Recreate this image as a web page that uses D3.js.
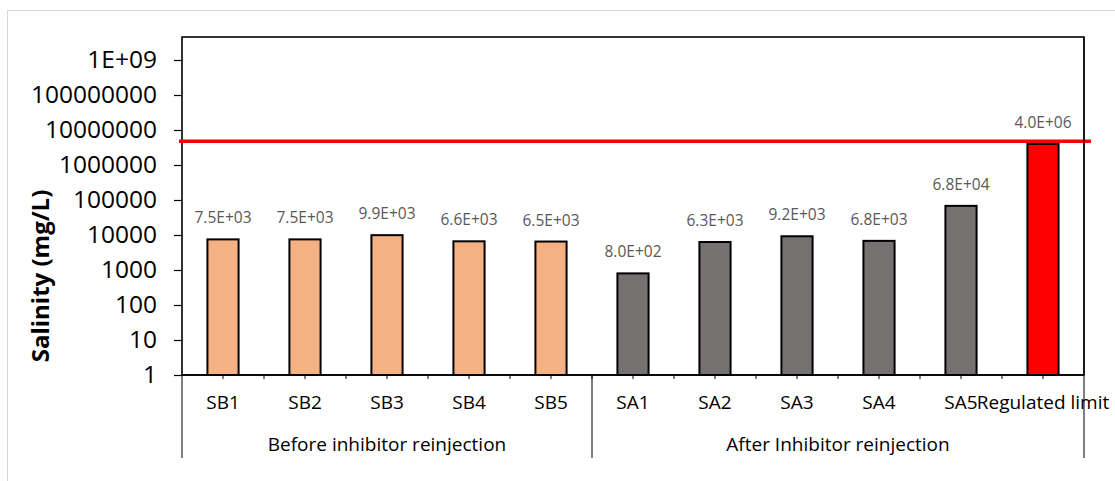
<!DOCTYPE html>
<html>
<head>
<meta charset="utf-8">
<script src="https://cdn.jsdelivr.net/npm/d3@7"></script>
<style>
  html, body { margin: 0; padding: 0; background: #fff; }
  svg { display: block; }
  text { font-family: "Open Sans", "DejaVu Sans", sans-serif; }
</style>
</head>
<body>
<svg id="chart" width="1115" height="481"></svg>
<script>
const categories = ["SB1", "SB2", "SB3", "SB4", "SB5", "SA1", "SA2", "SA3", "SA4", "SA5", "Regulated limit"];
const salinity = [7.5e3, 7.5e3, 9.9e3, 6.6e3, 6.5e3, 8.0e2, 6.3e3, 9.2e3, 6.8e3, 6.8e4, 4.0e6];
const valueLabels = ["7.5E+03", "7.5E+03", "9.9E+03", "6.6E+03", "6.5E+03", "8.0E+02", "6.3E+03", "9.2E+03", "6.8E+03", "6.8E+04", "4.0E+06"];
const barGroup = ["before", "before", "before", "before", "before", "after", "after", "after", "after", "after", "limit"];
const groups = ["Before inhibitor reinjection", "After Inhibitor reinjection"];
const groupSpans = [[0, 4], [5, 10]];
const yTickValues = [1, 10, 100, 1000, 10000, 100000, 1000000, 10000000, 100000000, 1000000000];
const yTickLabels = ["1", "10", "100", "1000", "10000", "100000", "1000000", "10000000", "100000000", "1E+09"];
const limitLineValue = 4.8e6;
const yTitle = "Salinity (mg/L)";

const colors = { before: "#F4B183", after: "#767171", limit: "#FF0000" };

const svg = d3.select("#chart");
const pL = 182, pR = 1084, pT = 37, pB = 375;

// outer chart border
svg.append("rect").attr("x", 7.5).attr("y", 10.5).attr("width", 1120).attr("height", 480)
  .attr("fill", "none").attr("stroke", "#d9d9d9").attr("stroke-width", 1);

const x = d3.scaleBand().domain(categories).range([pL, pR]).paddingInner(0.62).paddingOuter(0.31);
const band = (pR - pL) / categories.length;
const y = d3.scaleLog().domain([1, 1e9]).range([pB, 60]);

// plot frame
svg.append("rect").attr("x", pL).attr("y", pT).attr("width", pR - pL).attr("height", pB - pT)
  .attr("fill", "none").attr("stroke", "#000").attr("stroke-width", 1.6);

// y axis
const yAxis = d3.axisLeft(y).tickValues(yTickValues).tickFormat((d, i) => yTickLabels[i]).tickSize(8).tickPadding(17);
const gy = svg.append("g").attr("transform", `translate(${pL},0)`).call(yAxis);
gy.select(".domain").remove();
gy.selectAll(".tick line").attr("stroke", "#000").attr("stroke-width", 1.2);
gy.selectAll(".tick text").attr("font-size", 24.5).attr("fill", "#000").attr("font-family", "Open Sans");

// bars
svg.selectAll("rect.bar").data(categories).join("rect").attr("class", "bar")
  .attr("x", d => x(d)).attr("width", x.bandwidth())
  .attr("y", (d, i) => y(salinity[i])).attr("height", (d, i) => pB - y(salinity[i]))
  .attr("fill", (d, i) => colors[barGroup[i]]).attr("stroke", "#000").attr("stroke-width", 2);

// value labels
svg.selectAll("text.vl").data(categories).join("text").attr("class", "vl")
  .attr("x", d => x(d) + x.bandwidth() / 2).attr("y", (d, i) => y(salinity[i]) - 16)
  .attr("text-anchor", "middle").attr("font-size", 15.5).attr("fill", "#595959")
  .text((d, i) => valueLabels[i]);

// limit line
svg.append("line").attr("x1", pL - 3).attr("x2", pR + 7)
  .attr("y1", y(limitLineValue)).attr("y2", y(limitLineValue))
  .attr("stroke", "#FF0000").attr("stroke-width", 3.5);

// x axis baseline + ticks
svg.append("line").attr("x1", pL).attr("x2", pR).attr("y1", pB).attr("y2", pB)
  .attr("stroke", "#000").attr("stroke-width", 1.6);
const tickXs = [];
categories.forEach((c, i) => { tickXs.push(x(c) + x.bandwidth() / 2); if (i > 0) tickXs.push(pL + band * i); });
svg.selectAll("line.xt").data(tickXs).join("line").attr("class", "xt")
  .attr("x1", d => d).attr("x2", d => d).attr("y1", pB).attr("y2", pB + 4)
  .attr("stroke", "#000").attr("stroke-width", 1);

// category labels
svg.selectAll("text.cl").data(categories).join("text").attr("class", "cl")
  .attr("x", d => x(d) + x.bandwidth() / 2).attr("y", 409)
  .attr("text-anchor", "middle").attr("font-size", 19).attr("fill", "#000").text(d => d);

// group separators
const sepXs = [pL, pL + band * groupSpans[1][0], pR];
svg.selectAll("line.sep").data(sepXs).join("line").attr("class", "sep")
  .attr("x1", d => d).attr("x2", d => d).attr("y1", (d, i) => i === 2 ? pT : pB).attr("y2", 458)
  .attr("stroke", "#000").attr("stroke-width", 1);

// group labels
svg.selectAll("text.gl").data(groups).join("text").attr("class", "gl")
  .attr("x", (d, i) => pL + band * (groupSpans[i][0] + groupSpans[i][1] + 1) / 2)
  .attr("y", 451).attr("text-anchor", "middle").attr("font-size", 19).attr("fill", "#000").text(d => d);

// y title
svg.append("text").attr("transform", `translate(49,276) rotate(-90)`)
  .attr("text-anchor", "middle").attr("font-size", 24).attr("font-weight", "bold").attr("fill", "#000")
  .text(yTitle);
</script>
</body>
</html>
